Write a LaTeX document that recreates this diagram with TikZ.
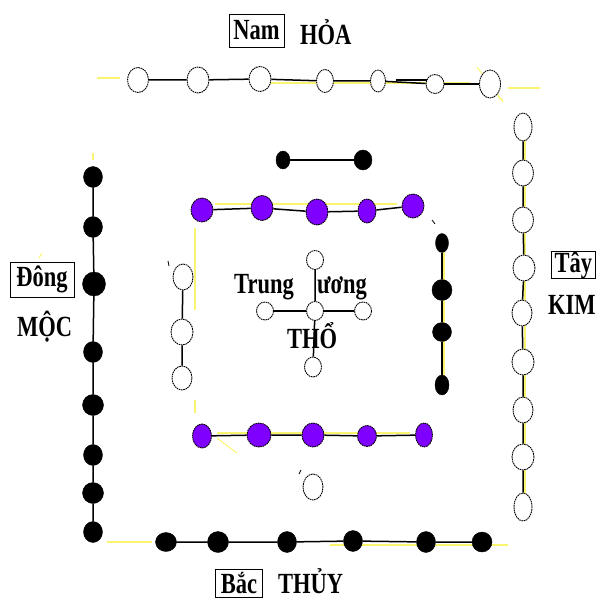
\documentclass[tikz,border=0pt]{standalone}
\usepackage{fontspec}
\setmainfont{Liberation Serif}
\usetikzlibrary{shapes.geometric}
\definecolor{vio}{RGB}{128,0,255}
\definecolor{yel}{RGB}{250,245,110}
\newcommand\tall[1]{\scalebox{1}[1.3]{#1}}
\tikzset{
  wn/.style={ellipse,draw=black,fill=white,line width=0.9pt,dash pattern=on 1.6pt off 0.7pt,inner sep=0pt,minimum width=20pt,minimum height=24pt},
  bn/.style={ellipse,draw=black,fill=black,inner sep=0pt,minimum width=19pt,minimum height=21pt},
  pn/.style={ellipse,draw=black,fill=vio,line width=0.9pt,dash pattern=on 1.6pt off 0.7pt,inner sep=0pt,minimum width=22pt,minimum height=24pt},
  lk/.style={line width=1.5pt},
  yl/.style={yel,line width=1.6pt},
  lab/.style={font=\fontsize{22.5}{24}\selectfont\bfseries,inner sep=0pt},
  boxlab/.style={lab,draw=black,line width=0.8pt}
}
\begin{document}
\begin{tikzpicture}[x=1pt,y=-1pt]
\useasboundingbox (0,0) rectangle (596,599);
\clip (0,0) rectangle (596,599);
% ---------- yellow frame fragments
\draw[yl] (97,78) -- (120,78);
\draw[yl] (250,83) -- (470,83);
\draw[yl] (508,88) -- (540,88);
\draw[yel,line width=1pt] (477,67) -- (503,102);
\draw[yl] (93,153) -- (93,160);
\draw[yel,line width=1pt] (39,258) -- (42,253);
\draw[yl] (107,542) -- (152,542);
\draw[yl] (330,545) -- (508,545);
\draw[yl] (525,130) -- (525,500);
\draw[yl] (215,204) -- (397,204);
\draw[yl] (195,228) -- (195,310);
\draw[yl] (195,400) -- (195,413);
\draw[yl] (217,433) -- (410,433);
\draw[yel,line width=1pt] (217,438) -- (237,453);
\draw[yl] (444,250) -- (444,380);
\draw[yel,line width=1pt] (498,97) -- (503,100);
% ---------- small ticks
\draw[line width=0.8pt] (168,261) -- (169,266);
\draw[line width=0.8pt] (432,220) -- (435,224);
\draw[line width=0.8pt] (299,474) -- (301,470);
% ---------- south-top row (Nam)
\node[wn,minimum width=21pt,minimum height=25pt] (t1) at (138,80) {};
\node[wn,minimum width=22pt,minimum height=26pt] (t2) at (198,80) {};
\node[wn,minimum width=22pt,minimum height=25pt] (t3) at (260,79) {};
\node[wn,minimum width=17pt,minimum height=23pt] (t4) at (325,81) {};
\node[wn,minimum width=15pt,minimum height=22pt] (t5) at (378,81) {};
\node[wn,minimum width=18pt,minimum height=19pt] (t6) at (435,84) {};
\node[wn,minimum width=21pt,minimum height=28pt] (t7) at (490,84) {};
\draw[lk] (t1) -- (t2) -- (t3) -- (t4) -- (t5);
\draw[lk] (t5.east) ++(10,-1) coordinate (d1) (d1) -- ++(31,0);
\draw[lk] (t5) -- (t6);
\draw[lk] (t6) -- (t7);
% ---------- left column (Dong)
\node[bn] (l1) at (93,177) {};
\node[bn] (l2) at (93,227) {};
\node[bn,minimum width=23pt,minimum height=24pt] (l3) at (94,284) {};
\node[bn] (l4) at (93,352) {};
\node[bn,minimum width=21pt] (l5) at (93,405) {};
\node[bn] (l6) at (93,455) {};
\node[bn,minimum width=21pt] (l7) at (93,493) {};
\node[bn] (l8) at (93,532) {};
\draw[lk] (l1) -- (l2) -- (l3) -- (l4) -- (l5) -- (l6) -- (l7) -- (l8);
% ---------- bottom row (Bac)
\node[bn,minimum width=21pt,minimum height=19pt] (b1) at (166,542) {};
\node[bn,minimum width=21pt,minimum height=21pt] (b2) at (218,542) {};
\node[bn,minimum width=19pt,minimum height=21pt] (b3) at (287,542) {};
\node[bn,minimum width=19pt,minimum height=21pt] (b4) at (353,541) {};
\node[bn,minimum width=19pt,minimum height=21pt] (b5) at (426,542) {};
\node[bn,minimum width=20pt,minimum height=20pt] (b6) at (482,542) {};
\draw[lk] (b1) -- (b2) -- (b3) -- (b4) -- (b5) -- (b6);
% ---------- right column (Tay)
\node[wn,minimum width=18pt,minimum height=28pt] (r1) at (523,127) {};
\node[wn,minimum width=21pt,minimum height=26pt] (r2) at (523,173) {};
\node[wn,minimum width=21pt,minimum height=26pt] (r3) at (523,220) {};
\node[wn,minimum width=22pt,minimum height=26pt] (r4) at (524,268) {};
\node[wn,minimum width=20pt,minimum height=26pt] (r5) at (522,313) {};
\node[wn,minimum width=22pt,minimum height=26pt] (r6) at (523,362) {};
\node[wn,minimum width=20pt,minimum height=26pt] (r7) at (523,410) {};
\node[wn,minimum width=22pt,minimum height=26pt] (r8) at (523,457) {};
\node[wn,minimum width=18pt,minimum height=28pt] (r9) at (523,507) {};
\draw[lk] (r1) -- (r2) -- (r3) -- (r4) -- (r5) -- (r6) -- (r7) -- (r8) -- (r9);
% ---------- short black pair
\node[bn,minimum width=14pt,minimum height=18pt] (s1) at (283,160) {};
\node[bn,minimum width=18pt,minimum height=20pt] (s2) at (363,160) {};
\draw[lk] (s1) -- (s2);
% ---------- purple top row
\node[pn] (p1) at (202,210) {};
\node[pn,minimum height=25pt] (p2) at (262,208) {};
\node[pn,minimum height=26pt] (p3) at (317,212) {};
\node[pn,minimum width=18pt] (p4) at (367,211) {};
\node[pn] (p5) at (413,206) {};
\draw[lk] (p1) -- (p2) -- (p3) -- (p4) -- (p5);
% ---------- purple bottom row
\node[pn,minimum width=19pt] (q1) at (202,436) {};
\node[pn,minimum width=24pt] (q2) at (259,435) {};
\node[pn,minimum width=22pt] (q3) at (313,435) {};
\node[pn,minimum width=19pt,minimum height=21pt] (q4) at (367,436) {};
\node[pn,minimum width=17pt] (q5) at (424,435) {};
\draw[lk] (q1) -- (q2) -- (q3) -- (q4) -- (q5);
% ---------- inner right black column
\node[bn,minimum width=13pt,minimum height=19pt] (ib1) at (442,243) {};
\node[bn,minimum width=20pt,minimum height=21pt] (ib2) at (442,290) {};
\node[bn,minimum width=19pt,minimum height=19pt] (ib3) at (442,332) {};
\node[bn,minimum width=14pt,minimum height=20pt] (ib4) at (442,385) {};
\draw[lk] (ib1) -- (ib2) -- (ib3) -- (ib4);
% ---------- inner left white column
\node[wn,minimum width=20pt,minimum height=26pt] (w1) at (183,277) {};
\node[wn,minimum width=22pt,minimum height=26pt] (w2) at (182,332) {};
\node[wn,minimum width=20pt,minimum height=24pt] (w3) at (182,378) {};
\draw[lk] (w1) -- (w2) -- (w3);
% ---------- center (Trung uong)
\node[wn,minimum width=17pt,minimum height=19pt] (cu) at (315,260) {};
\node[wn,minimum width=17pt,minimum height=19pt] (c0) at (315,311) {};
\node[wn,minimum width=17pt,minimum height=18pt] (cl) at (265,311) {};
\node[wn,minimum width=17pt,minimum height=18pt] (cr) at (363,311) {};
\node[wn,minimum width=17pt,minimum height=20pt] (cd) at (313,367) {};
\draw[lk] (cu) -- (c0) -- (cd);
\draw[lk] (cl) -- (c0) -- (cr);
\node[wn,minimum width=20pt,minimum height=26pt] (iso) at (313,487) {};
% ---------- labels
\node[lab,anchor=base west] (trung) at (234,293) {\tall{Trung}};
\node[lab,anchor=base west] (uong) at (317,293) {\tall{ương}};
\node[lab,anchor=base west] (tho) at (287,348) {\tall{THỔ}};
\node[boxlab,minimum width=55pt,minimum height=33pt] (nam) at (256.5,30.5) {\tall{Nam}};
\node[lab,anchor=base west] (hoa) at (300,45) {\tall{HỎA}};
\node[boxlab,minimum width=64pt,minimum height=35pt] (dong) at (42,279.5) {\tall{Đông}};
\node[lab,anchor=base west] (moc) at (17,336) {\tall{MỘC}};
\node[boxlab,anchor=north west,minimum width=44pt,minimum height=26pt] (tay) at (551,251) {\tall{Tây}};
\node[lab,anchor=base west] (kim) at (548,314) {\tall{KIM}};
\node[boxlab,anchor=north west,minimum width=47pt,minimum height=28pt] (bac) at (215,569) {\tall{Bắc}};
\node[lab,anchor=base west] (thuy) at (278,593) {\tall{THỦY}};
\end{tikzpicture}
\end{document}
